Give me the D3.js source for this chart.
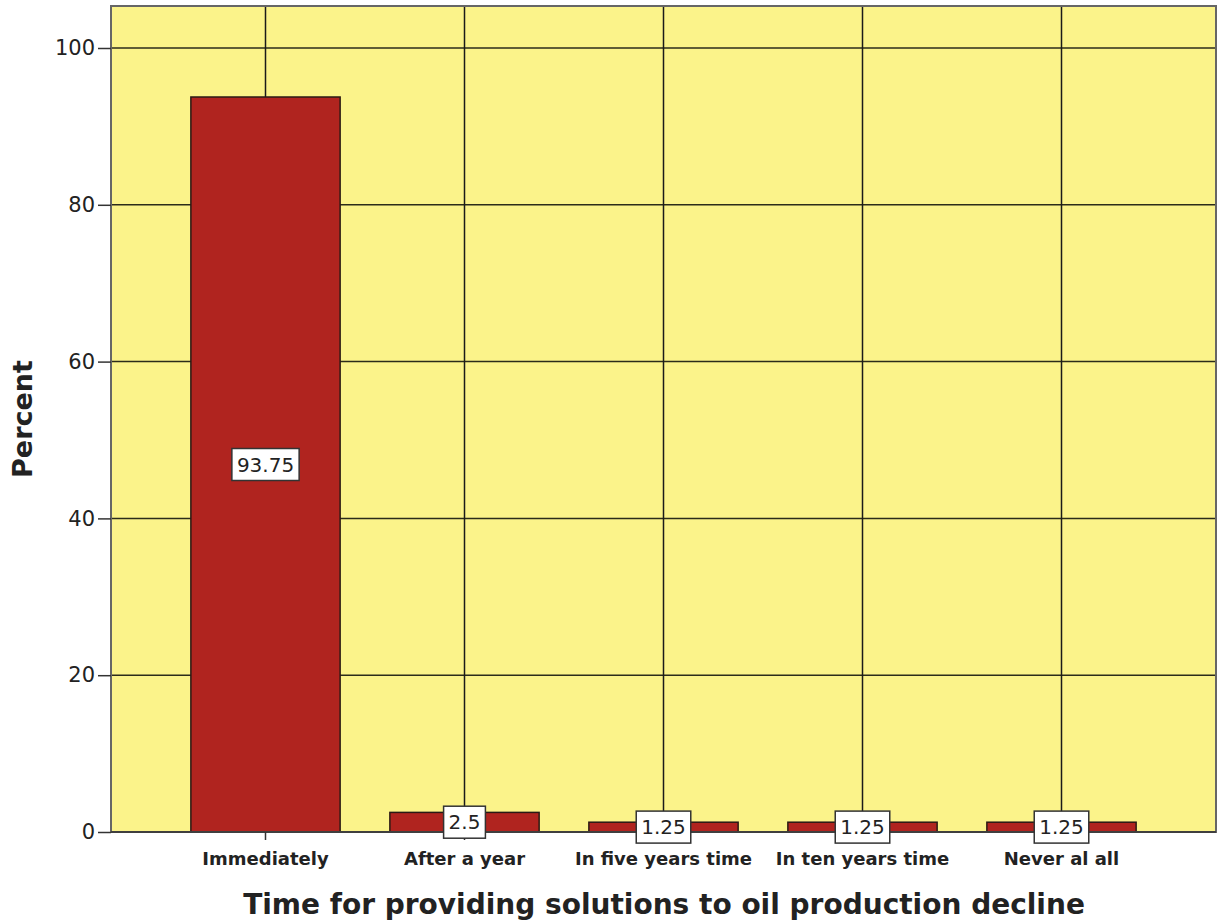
<!DOCTYPE html>
<html>
<head>
<meta charset="utf-8">
<script src="https://cdn.jsdelivr.net/npm/d3@7"></script>
<style>
  html, body { margin: 0; padding: 0; background: #ffffff; }
  svg { display: block; }
  text { font-family: "DejaVu Sans", sans-serif; fill: #222; }
</style>
</head>
<body>
<svg id="chart" width="1217" height="924"></svg>
<script>
// Survey responses: time for providing solutions to oil production decline
const categories = ["Immediately", "After a year", "In five years time", "In ten years time", "Never al all"];
const percents = [93.75, 2.5, 1.25, 1.25, 1.25];
const yTicks = [0, 20, 40, 60, 80, 100];
const xTitle = "Time for providing solutions to oil production decline";
const yTitle = "Percent";

const svg = d3.select("#chart");
const plot = { left: 111, right: 1216, top: 6, bottom: 832 };

const y = d3.scaleLinear().domain([0, 100]).range([plot.bottom, 48]);

const x = d3.scaleBand()
  .domain(categories)
  .range([plot.left + 55, plot.right - 55])
  .paddingInner(0.25)
  .paddingOuter(0.125);

// plot background
svg.append("rect")
  .attr("x", plot.left).attr("y", plot.top)
  .attr("width", plot.right - plot.left).attr("height", plot.bottom - plot.top)
  .attr("fill", "#fbf38a");

// horizontal grid lines
svg.append("g").selectAll("line")
  .data(yTicks.filter(d => d > 0))
  .join("line")
  .attr("x1", plot.left).attr("x2", plot.right)
  .attr("y1", d => y(d)).attr("y2", d => y(d))
  .attr("stroke", "#2b2b1a").attr("stroke-width", 1.5);

// vertical grid lines at category centres
svg.append("g").selectAll("line")
  .data(categories)
  .join("line")
  .attr("x1", d => x(d) + x.bandwidth() / 2).attr("x2", d => x(d) + x.bandwidth() / 2)
  .attr("y1", plot.top).attr("y2", plot.bottom)
  .attr("stroke", "#1a1a1a").attr("stroke-width", 1.5);

// bars
svg.append("g").selectAll("rect")
  .data(categories.map((c, i) => ({ c, v: percents[i] })))
  .join("rect")
  .attr("x", d => x(d.c))
  .attr("y", d => y(d.v))
  .attr("width", x.bandwidth())
  .attr("height", d => y(0) - y(d.v))
  .attr("fill", "#b0241f")
  .attr("stroke", "#2a1a14")
  .attr("stroke-width", 1.5);

// plot frame
svg.append("rect")
  .attr("x", plot.left).attr("y", plot.top)
  .attr("width", plot.right - plot.left).attr("height", plot.bottom - plot.top)
  .attr("fill", "none")
  .attr("stroke", "#666").attr("stroke-width", 2);

// y axis
const yAxis = svg.append("g")
  .attr("transform", `translate(${plot.left},0)`)
  .call(d3.axisLeft(y).tickValues(yTicks).tickSize(13).tickPadding(3));
yAxis.select(".domain").remove();
yAxis.selectAll(".tick line").attr("stroke", "#333").attr("stroke-width", 1.5);
yAxis.selectAll(".tick text")
  .attr("font-family", "DejaVu Sans, sans-serif")
  .attr("font-size", 21).attr("fill", "#333");

// x axis
const xAxis = svg.append("g")
  .attr("transform", `translate(0,${plot.bottom})`)
  .call(d3.axisBottom(x).tickSize(8).tickPadding(12));
xAxis.select(".domain")
  .attr("d", `M${plot.left},0H${plot.right}`)
  .attr("stroke", "#333").attr("stroke-width", 1.5);
xAxis.selectAll(".tick line").attr("stroke", "#333").attr("stroke-width", 1.5);
xAxis.selectAll(".tick text")
  .attr("font-family", "DejaVu Sans, sans-serif")
  .attr("font-weight", "bold")
  .attr("font-size", 18).attr("fill", "#222");

// value labels in white boxes at the middle of each bar
const labels = svg.append("g").selectAll("g")
  .data(categories.map((c, i) => ({ c, v: percents[i] })))
  .join("g")
  .attr("transform", d => `translate(${x(d.c) + x.bandwidth() / 2},${y(d.v / 2)})`);
labels.append("text")
  .attr("text-anchor", "middle")
  .attr("dy", "0.36em")
  .attr("font-size", 20)
  .attr("fill", "#333")
  .text(d => d.v);
labels.each(function () {
  const g = d3.select(this);
  const bb = g.select("text").node().getBBox();
  g.insert("rect", "text")
    .attr("x", bb.x - 5).attr("y", -16)
    .attr("width", bb.width + 10).attr("height", 32)
    .attr("fill", "#ffffff")
    .attr("stroke", "#333").attr("stroke-width", 1.5);
});

// axis titles
svg.append("text")
  .attr("x", 664)
  .attr("y", 914)
  .attr("text-anchor", "middle")
  .attr("font-weight", "bold")
  .attr("font-size", 28)
  .attr("fill", "#111")
  .text(xTitle);

svg.append("text")
  .attr("transform", `translate(32,${419}) rotate(-90)`)
  .attr("text-anchor", "middle")
  .attr("font-weight", "bold")
  .attr("font-size", 27)
  .attr("fill", "#111")
  .text(yTitle);
</script>
</body>
</html>
